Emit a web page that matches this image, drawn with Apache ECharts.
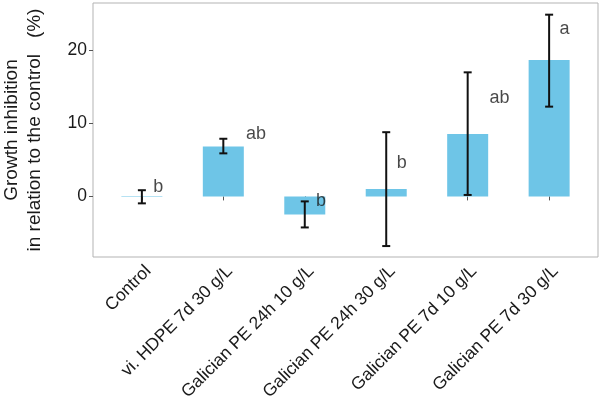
<!DOCTYPE html>
<html>
<head>
<meta charset="utf-8">
<script src="https://cdn.jsdelivr.net/npm/echarts@6/dist/echarts.min.js"></script>
<style>html,body{margin:0;padding:0;background:#fff}#c{width:600px;height:396px}</style>
</head>
<body>
<div id="c"></div>
<script>
const categories = ["Control", "vi. HDPE 7d 30 g/L", "Galician PE 24h 10 g/L", "Galician PE 24h 30 g/L", "Galician PE 7d 10 g/L", "Galician PE 7d 30 g/L"];
const means = [0.05, 6.85, -2.47, 1.0, 8.55, 18.7];
const errLow = [-0.95, 5.9, -4.25, -6.8, 0.2, 12.3];
const errHigh = [0.85, 7.9, -0.68, 8.8, 17.0, 24.9];
const letters = ["b", "ab", "b", "b", "ab", "a"];
const letterX = [1.2, 2.4, 3.2, 4.19, 5.39, 6.19];
const letterY = [1.3, 8.6, -0.6, 4.6, 13.5, 23.0];
const yTicks = [0, 10, 20];

const font = "'Liberation Sans', Arial, Helvetica, sans-serif";
const xPos = categories.map((c, i) => i + 1);

const chart = echarts.init(document.getElementById('c'), null, {renderer: 'canvas'});
chart.setOption({
  animation: false,
  backgroundColor: '#ffffff',
  grid: {left: 93, top: 3, right: 2, bottom: 139, show: true, borderColor: '#b3b3b3', borderWidth: 1,
         containLabel: false, outerBoundsMode: 'none'},
  xAxis: {
    type: 'value', min: 0.4, max: 6.6,
    axisLine: {show: false},
    splitLine: {show: false},
    axisTick: {show: true, customValues: xPos, length: 4, lineStyle: {color: '#555'}},
    axisLabel: {
      customValues: xPos, rotate: 45, margin: 5, hideOverlap: false, verticalAlign: 'top',
      fontFamily: font, fontSize: 17.5, color: '#1a1a1a',
      formatter: v => categories[Math.round(v) - 1] || ''
    }
  },
  yAxis: {
    type: 'value', min: -8.3, max: 26.5,
    axisLine: {show: false},
    splitLine: {show: false},
    axisTick: {show: true, customValues: yTicks, length: 4, lineStyle: {color: '#555'}},
    axisLabel: {customValues: yTicks, fontFamily: font, fontSize: 17.5, color: '#1a1a1a', margin: 6},
    name: 'Growth inhibition\nin relation to the control   (%)',
    nameLocation: 'middle', nameGap: 47, nameRotate: 90,
    nameTextStyle: {fontFamily: font, fontSize: 19, color: '#1a1a1a', lineHeight: 23}
  },
  series: [
    {
      type: 'bar',
      data: means.map((v, i) => [xPos[i], v]),
      barWidth: 41,
      itemStyle: {color: '#6ec5e7'}
    },
    {
      type: 'custom',
      data: means.map((v, i) => [xPos[i], errLow[i], errHigh[i]]),
      renderItem: function (params, api) {
        const x = api.value(0);
        const lo = api.coord([x, api.value(1)]);
        const hi = api.coord([x, api.value(2)]);
        const hw = 4;
        const style = {stroke: '#111', lineWidth: 2, fill: null};
        return {
          type: 'group',
          children: [
            {type: 'line', shape: {x1: lo[0], y1: lo[1], x2: hi[0], y2: hi[1]}, style: style},
            {type: 'line', shape: {x1: lo[0] - hw, y1: lo[1], x2: lo[0] + hw, y2: lo[1]}, style: style},
            {type: 'line', shape: {x1: hi[0] - hw, y1: hi[1], x2: hi[0] + hw, y2: hi[1]}, style: style}
          ]
        };
      },
      z: 5
    },
    {
      type: 'scatter',
      symbolSize: 0,
      data: letters.map((t, i) => ({value: [letterX[i], letterY[i]], name: t})),
      label: {
        show: true, position: 'inside', formatter: p => p.name,
        fontFamily: font, fontSize: 18, color: '#1a1a1a'
      },
      z: 6
    }
  ]
});
</script>
</body>
</html>
